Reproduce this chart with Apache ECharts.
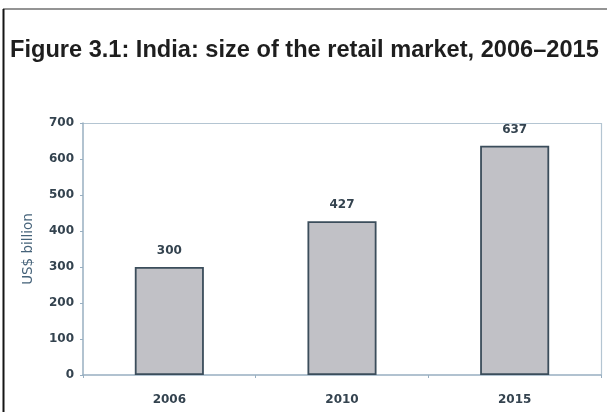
<!DOCTYPE html>
<html>
<head>
<meta charset="utf-8">
<script src="https://cdn.jsdelivr.net/npm/echarts@6/dist/echarts.min.js"></script>
<style>
  html, body { margin: 0; padding: 0; background: #ffffff; }
  #wrap { position: relative; width: 607px; height: 412px; }
  #plot, #frame { position: absolute; left: 0; top: 0; width: 607px; height: 412px; }
  #plot { filter: blur(0.5px); }
</style>
</head>
<body>
<div id="wrap">
  <div id="plot"></div>
  <div id="frame"></div>
</div>
<script>
// Retail market size, US$ billion
const years = ['2006', '2010', '2015'];
const marketSize = [300, 427, 637];
const yTicks = { min: 0, max: 700, step: 100 };

const titleText = 'Figure 3.1: India: size of the retail market, 2006\u20132015';
const axisName = 'US$ billion';
const axisColor = '#98afc1';
const frameColor = '#b4c5d2';
const labelColor = '#34434f';
const chartFont = 'DejaVu Sans, Verdana, sans-serif';

// Bar chart layer
const plot = echarts.init(document.getElementById('plot'), null, { renderer: 'canvas' });
plot.setOption({
  backgroundColor: '#ffffff',
  animation: false,
  graphic: [
    // light frame along the top and right of the plot area
    { type: 'polyline', shape: { points: [[83, 123.5], [601.5, 123.5], [601.5, 375.5]] },
      style: { stroke: frameColor, lineWidth: 1.2, fill: null } }
  ],
  grid: { left: 83, top: 123, right: 6, bottom: 37, containLabel: false },
  xAxis: {
    type: 'category',
    data: years,
    axisLine: { lineStyle: { color: axisColor, width: 1.5 } },
    axisTick: { show: true, alignWithLabel: false, length: 3, lineStyle: { color: axisColor } },
    axisLabel: { color: labelColor, fontFamily: chartFont, fontWeight: 'bold', fontSize: 12, margin: 19 }
  },
  yAxis: {
    type: 'value',
    min: yTicks.min,
    max: yTicks.max,
    interval: yTicks.step,
    name: axisName,
    nameLocation: 'middle',
    nameGap: 48,
    nameTextStyle: { color: '#46637a', fontFamily: chartFont, fontSize: 13.5 },
    axisLine: { show: true, lineStyle: { color: axisColor, width: 1.5 } },
    axisTick: { show: true, length: 3, lineStyle: { color: axisColor } },
    splitLine: { show: false },
    axisLabel: { color: labelColor, fontFamily: chartFont, fontWeight: 'bold', fontSize: 12, margin: 9 }
  },
  series: [{
    type: 'bar',
    data: marketSize,
    barWidth: '40%',
    itemStyle: { color: '#c1c1c6', borderColor: '#3b4d5b', borderWidth: 1.8 },
    label: {
      show: true,
      position: 'top',
      distance: 10,
      color: labelColor,
      fontFamily: chartFont,
      fontWeight: 'bold',
      fontSize: 12
    }
  }]
});

// Title and page frame layer
const frame = echarts.init(document.getElementById('frame'), null, { renderer: 'canvas' });
frame.setOption({
  backgroundColor: 'transparent',
  animation: false,
  title: {
    text: titleText,
    left: 5,
    top: 33,
    textStyle: {
      fontFamily: 'Liberation Sans, Arial, sans-serif',
      fontWeight: 'bold',
      fontSize: 23.6,
      color: '#1e1e1e'
    }
  },
  graphic: [
    { type: 'line', shape: { x1: 3, y1: 9, x2: 607, y2: 9 }, style: { stroke: '#707070', lineWidth: 1.5 } },
    { type: 'line', shape: { x1: 3.5, y1: 9, x2: 3.5, y2: 412 }, style: { stroke: '#151515', lineWidth: 2 } }
  ]
});
</script>
</body>
</html>
